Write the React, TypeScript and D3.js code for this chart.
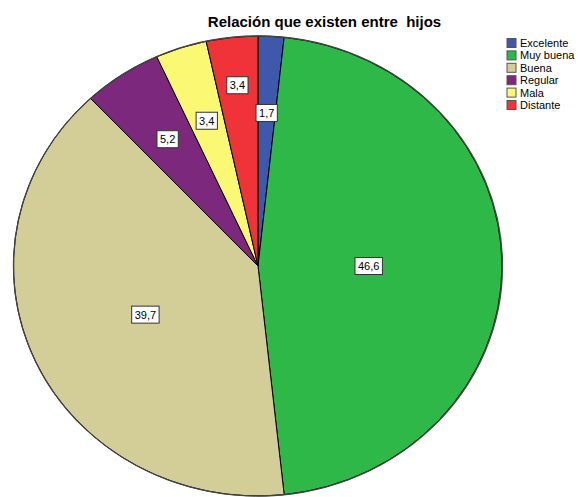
import { useEffect, useRef } from "react";
import * as d3 from "d3";

const title = "Relación que existen entre  hijos";
const categories = ["Excelente", "Muy buena", "Buena", "Regular", "Mala", "Distante"];
const values = [1.7, 46.6, 39.7, 5.2, 3.4, 3.4];
const labels = ["1,7", "46,6", "39,7", "5,2", "3,4", "3,4"];
const colors = ["#3e58ac", "#2eb848", "#d3ce97", "#7c287d", "#fbf873", "#ef3338"];

export default function App() {
  const ref = useRef<SVGSVGElement>(null);

  useEffect(() => {
    const svg = d3.select(ref.current);
    svg.selectAll("*").remove();

    // pie is drawn as an ellipse (SPSS output)
    const cx = 258, cy = 266, rx = 244.5, ry = 230;
    const font = "Arial, 'Liberation Sans', sans-serif";

    const pie = d3.pie<number>().sort(null).value(d => d);
    const arcs = pie(values);
    const arc = d3.arc<d3.PieArcDatum<number>>().innerRadius(0).outerRadius(1);

    const g = svg.append("g")
      .attr("transform", `translate(${cx},${cy}) scale(${rx},${ry})`);

    g.selectAll("path.slice")
      .data(arcs)
      .join("path")
      .attr("class", "slice")
      .attr("d", arc)
      .attr("fill", (d, i) => colors[i])
      .attr("stroke", "#000")
      .attr("stroke-width", 1)
      .attr("stroke-linejoin", "round")
      .attr("vector-effect", "non-scaling-stroke");

    g.append("circle")
      .attr("r", 1)
      .attr("fill", "none")
      .attr("stroke", "#444")
      .attr("stroke-width", 1.3)
      .attr("vector-effect", "non-scaling-stroke");

    // value labels at the slice centroids, pushed outward if they collide
    const placed: { x0: number; x1: number; y0: number; y1: number }[] = [];
    const pad = 10;
    const lg = svg.append("g");
    arcs.forEach((d, i) => {
      const a = (d.startAngle + d.endAngle) / 2;
      const span = d.endAngle - d.startAngle;
      const f = (4 * Math.sin(span / 2)) / (3 * span);
      const t = lg.append("text")
        .attr("font-family", font)
        .attr("font-size", 11)
        .attr("text-anchor", "middle")
        .attr("fill", "#000")
        .text(labels[i]);
      const w = (t.node() as SVGTextElement).getComputedTextLength() + 6;
      const h = 17;
      let k = f;
      let x = 0, y = 0;
      for (let step = 0; step < 200; step++) {
        x = cx + rx * k * Math.sin(a);
        y = cy - ry * k * Math.cos(a);
        const hit = placed.some(b =>
          x - w / 2 < b.x1 + pad && x + w / 2 > b.x0 - pad &&
          y - h / 2 < b.y1 + pad && y + h / 2 > b.y0 - pad);
        if (!hit) break;
        k += 0.005;
      }
      placed.push({ x0: x - w / 2, x1: x + w / 2, y0: y - h / 2, y1: y + h / 2 });
      lg.insert("rect", "text:last-child")
        .attr("x", x - w / 2)
        .attr("y", y - h / 2)
        .attr("width", w)
        .attr("height", h)
        .attr("fill", "#fff")
        .attr("stroke", "#333")
        .attr("stroke-width", 1);
      t.attr("x", x).attr("y", y + 4).raise();
    });

    // title
    svg.append("text")
      .attr("x", 324.5)
      .attr("y", 27)
      .attr("text-anchor", "middle")
      .attr("font-family", font)
      .attr("font-size", 15)
      .attr("font-weight", "bold")
      .style("white-space", "pre")
      .text(title);

    // legend
    const leg = svg.append("g").attr("transform", "translate(507,38.5)");
    const rows = leg.selectAll("g")
      .data(categories)
      .join("g")
      .attr("transform", (d, i) => `translate(0,${i * 12.4})`);
    rows.append("rect")
      .attr("width", 9)
      .attr("height", 9)
      .attr("fill", (d, i) => colors[i])
      .attr("stroke", "#555")
      .attr("stroke-width", 1);
    rows.append("text")
      .attr("x", 13)
      .attr("y", 8.5)
      .attr("font-family", font)
      .attr("font-size", 11)
      .attr("fill", "#000")
      .text(d => d);
  }, []);

  return (
    <svg
      ref={ref}
      width={578}
      height={497}
      style={{ position: "absolute", left: 0, top: 0, background: "#fff" }}
    />
  );
}
